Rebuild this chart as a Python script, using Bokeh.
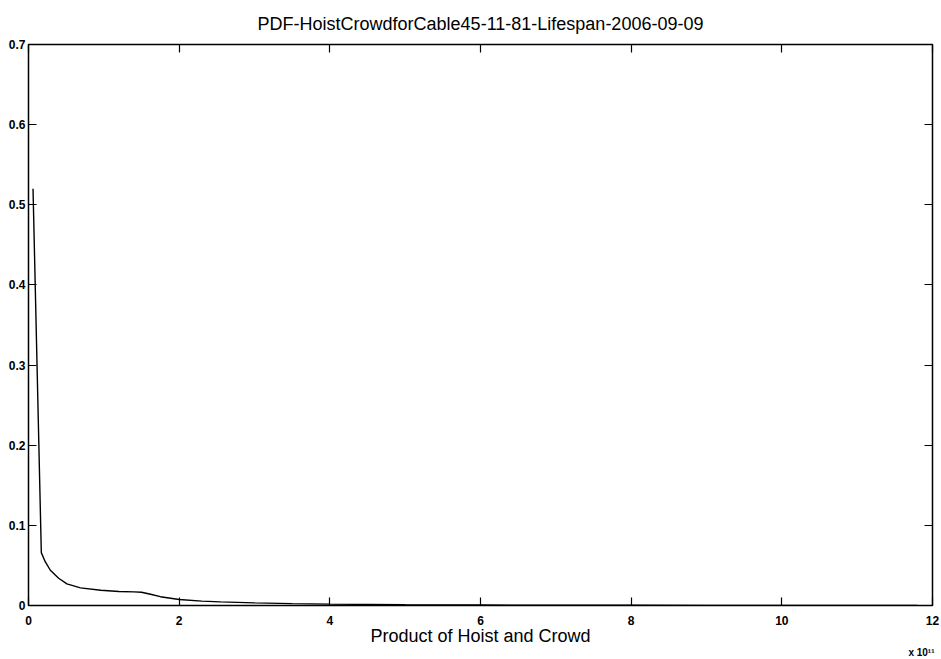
from bokeh.plotting import figure
from bokeh.models import LinearAxis, FixedTicker, Range1d, Title
from bokeh.embed import file_html
from bokeh.resources import INLINE

# Data (x in units of 1e11)
x_vals = [0.06, 0.17, 0.22, 0.29, 0.40, 0.51, 0.69, 0.96, 1.20, 1.40, 1.50, 1.62,
          1.75, 2.00, 2.30, 2.55, 3.00, 3.50, 4.00, 5.00, 6.00, 7.00, 8.00, 9.00,
          10.00, 11.00, 11.80]
y_vals = [0.520, 0.066, 0.055, 0.044, 0.034, 0.027, 0.022, 0.019, 0.0175, 0.017,
          0.0165, 0.014, 0.011, 0.0075, 0.0055, 0.0045, 0.0033, 0.0024, 0.0017,
          0.0010, 0.0006, 0.0004, 0.0003, 0.0002, 0.0001, 0.0001, 0.0001]
x_ticks = [0, 2, 4, 6, 8, 10, 12]
y_ticks = [0, 0.1, 0.2, 0.3, 0.4, 0.5, 0.6, 0.7]
y_tick_labels = ["0", "0.1", "0.2", "0.3", "0.4", "0.5", "0.6", "0.7"]
title_text = "PDF-HoistCrowdforCable45-11-81-Lifespan-2006-09-09"
x_label = "Product of Hoist and Crowd"
exp_text = "x 10\u00b9\u00b9"

FONT = "Liberation Sans"

p = figure(width=941, height=659, output_backend="svg", toolbar_location=None,
           x_range=Range1d(0, 12), y_range=Range1d(0, 0.7),
           min_border_left=28, min_border_right=9, min_border_top=44,
           min_border_bottom=54, x_axis_location=None, y_axis_location=None)
p.title.text = title_text
p.title.align = "center"
p.title.vertical_align = "top"
p.title.text_font = FONT
p.title.text_font_size = "18px"
p.title.text_font_style = "normal"
p.title.text_color = "black"
p.title.standoff = 18

p.grid.visible = False
p.outline_line_color = "black"
p.outline_line_width = 1.5
p.background_fill_color = "white"
p.border_fill_color = "white"

def style_axis(ax):
    ax.major_tick_in = 8
    ax.major_tick_out = 0
    ax.minor_tick_line_color = None
    ax.axis_line_color = "black"
    ax.major_tick_line_color = "black"
    ax.major_tick_line_width = 1.2
    ax.major_label_text_font = FONT
    ax.major_label_text_font_style = "bold"
    ax.major_label_text_font_size = "12px"
    ax.major_label_text_color = "black"

xb = LinearAxis(ticker=FixedTicker(ticks=x_ticks))
style_axis(xb)
xb.major_label_standoff = 10
xb.axis_label = x_label
xb.axis_label_text_font = FONT
xb.axis_label_text_font_size = "18px"
xb.axis_label_text_font_style = "normal"
xb.axis_label_text_color = "black"
xb.axis_label_standoff = -2
p.add_layout(xb, "below")

exp_title = Title(text=exp_text, align="right", text_font=FONT,
                  text_font_size="10px", text_font_style="bold",
                  text_color="black", standoff=-18, offset=-2)
p.add_layout(exp_title, "below")

yl = LinearAxis(ticker=FixedTicker(ticks=y_ticks))
style_axis(yl)
yl.major_label_standoff = 3
yl.major_label_overrides = {t: s for t, s in zip(y_ticks, y_tick_labels)}
p.add_layout(yl, "left")

xt = LinearAxis(ticker=FixedTicker(ticks=x_ticks))
style_axis(xt)
xt.major_label_standoff = 0
xt.major_label_overrides = {t: "" for t in x_ticks}
p.add_layout(xt, "above")

yr = LinearAxis(ticker=FixedTicker(ticks=y_ticks))
style_axis(yr)
yr.major_label_standoff = 0
yr.major_label_overrides = {t: "" for t in y_ticks}
p.add_layout(yr, "right")

p.line(x_vals, y_vals, line_color="black", line_width=1.4)

open("out.html", "w").write(file_html(p, INLINE))
